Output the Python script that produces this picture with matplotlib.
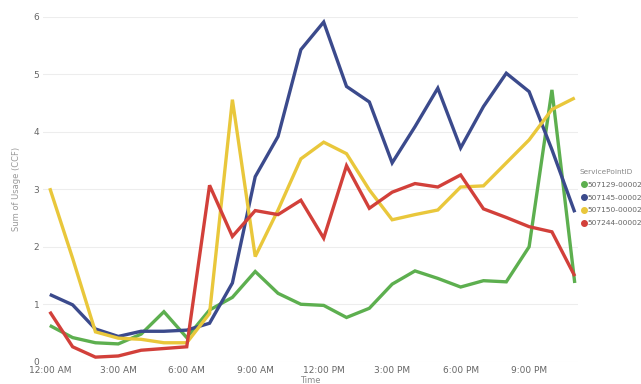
import matplotlib
matplotlib.use("Agg")
import matplotlib.pyplot as plt
from matplotlib.lines import Line2D

hours = list(range(24))
tick_hours = [0, 3, 6, 9, 12, 15, 18, 21]
tick_labels = ["12:00 AM", "3:00 AM", "6:00 AM", "9:00 AM", "12:00 PM", "3:00 PM", "6:00 PM", "9:00 PM"]

series_names = ["507129-00002", "507145-00002", "507150-00002", "507244-00002"]
green = [0.63, 0.42, 0.33, 0.31, 0.48, 0.87, 0.42, 0.90, 1.12, 1.57, 1.19, 1.00,
         0.98, 0.77, 0.93, 1.35, 1.58, 1.45, 1.30, 1.41, 1.39, 2.00, 4.73, 1.37]
blue = [1.17, 0.99, 0.57, 0.44, 0.53, 0.53, 0.55, 0.67, 1.37, 3.22, 3.92, 5.43,
        5.91, 4.79, 4.52, 3.46, 4.09, 4.76, 3.72, 4.44, 5.02, 4.70, 3.69, 2.60]
yellow = [3.02, 1.80, 0.52, 0.41, 0.39, 0.33, 0.33, 0.84, 4.56, 1.83, 2.64, 3.53,
          3.82, 3.62, 2.99, 2.47, 2.56, 2.64, 3.04, 3.06, 3.46, 3.86, 4.39, 4.59]
red = [0.87, 0.26, 0.08, 0.10, 0.20, 0.23, 0.26, 3.07, 2.18, 2.63, 2.56, 2.81,
       2.15, 3.41, 2.67, 2.95, 3.10, 3.04, 3.25, 2.66, 2.51, 2.35, 2.26, 1.49]

colors = ["#5DAF4F", "#3B4A8C", "#E9C73B", "#D2403A"]
all_series = [green, blue, yellow, red]

fig = plt.figure(figsize=(6.41, 3.84), dpi=100)
ax = fig.add_axes([0.067, 0.058, 0.835, 0.898])

for vals, c in zip(all_series, colors):
    ax.plot(hours, vals, color=c, lw=2.4, solid_joinstyle="miter", solid_capstyle="butt")

ax.set_xlim(-0.3, 23.15)
ax.set_ylim(0, 6)
ax.set_yticks(range(7))
ax.set_xticks(tick_hours)
ax.set_xticklabels(tick_labels)
ax.grid(axis="y", color="#EDEDED", lw=0.8)
ax.set_axisbelow(True)
for s in ax.spines.values():
    s.set_visible(False)
ax.tick_params(axis="both", length=0, labelsize=6.5, colors="#666666")
ax.tick_params(axis="y", pad=2.5)
ax.tick_params(axis="x", pad=3)
ax.set_xlabel("Time", fontsize=6, color="#888888", labelpad=1)
ax.set_ylabel("Sum of Usage (CCF)", fontsize=6, color="#999999", labelpad=9)

handles = [Line2D([], [], marker="o", ls="", color=c, markersize=4) for c in colors]
leg = fig.legend(handles, series_names, title="ServicePointID", loc="upper left",
                 bbox_to_anchor=(0.900, 0.568), frameon=False, fontsize=5.4,
                 title_fontsize=5.3, handletextpad=0.0, labelspacing=0.88,
                 borderaxespad=0, handlelength=1.0, alignment="left")
for t in leg.get_texts():
    t.set_color("#666666")
leg.get_title().set_color("#888888")

fig.savefig("out.png", dpi=100)
